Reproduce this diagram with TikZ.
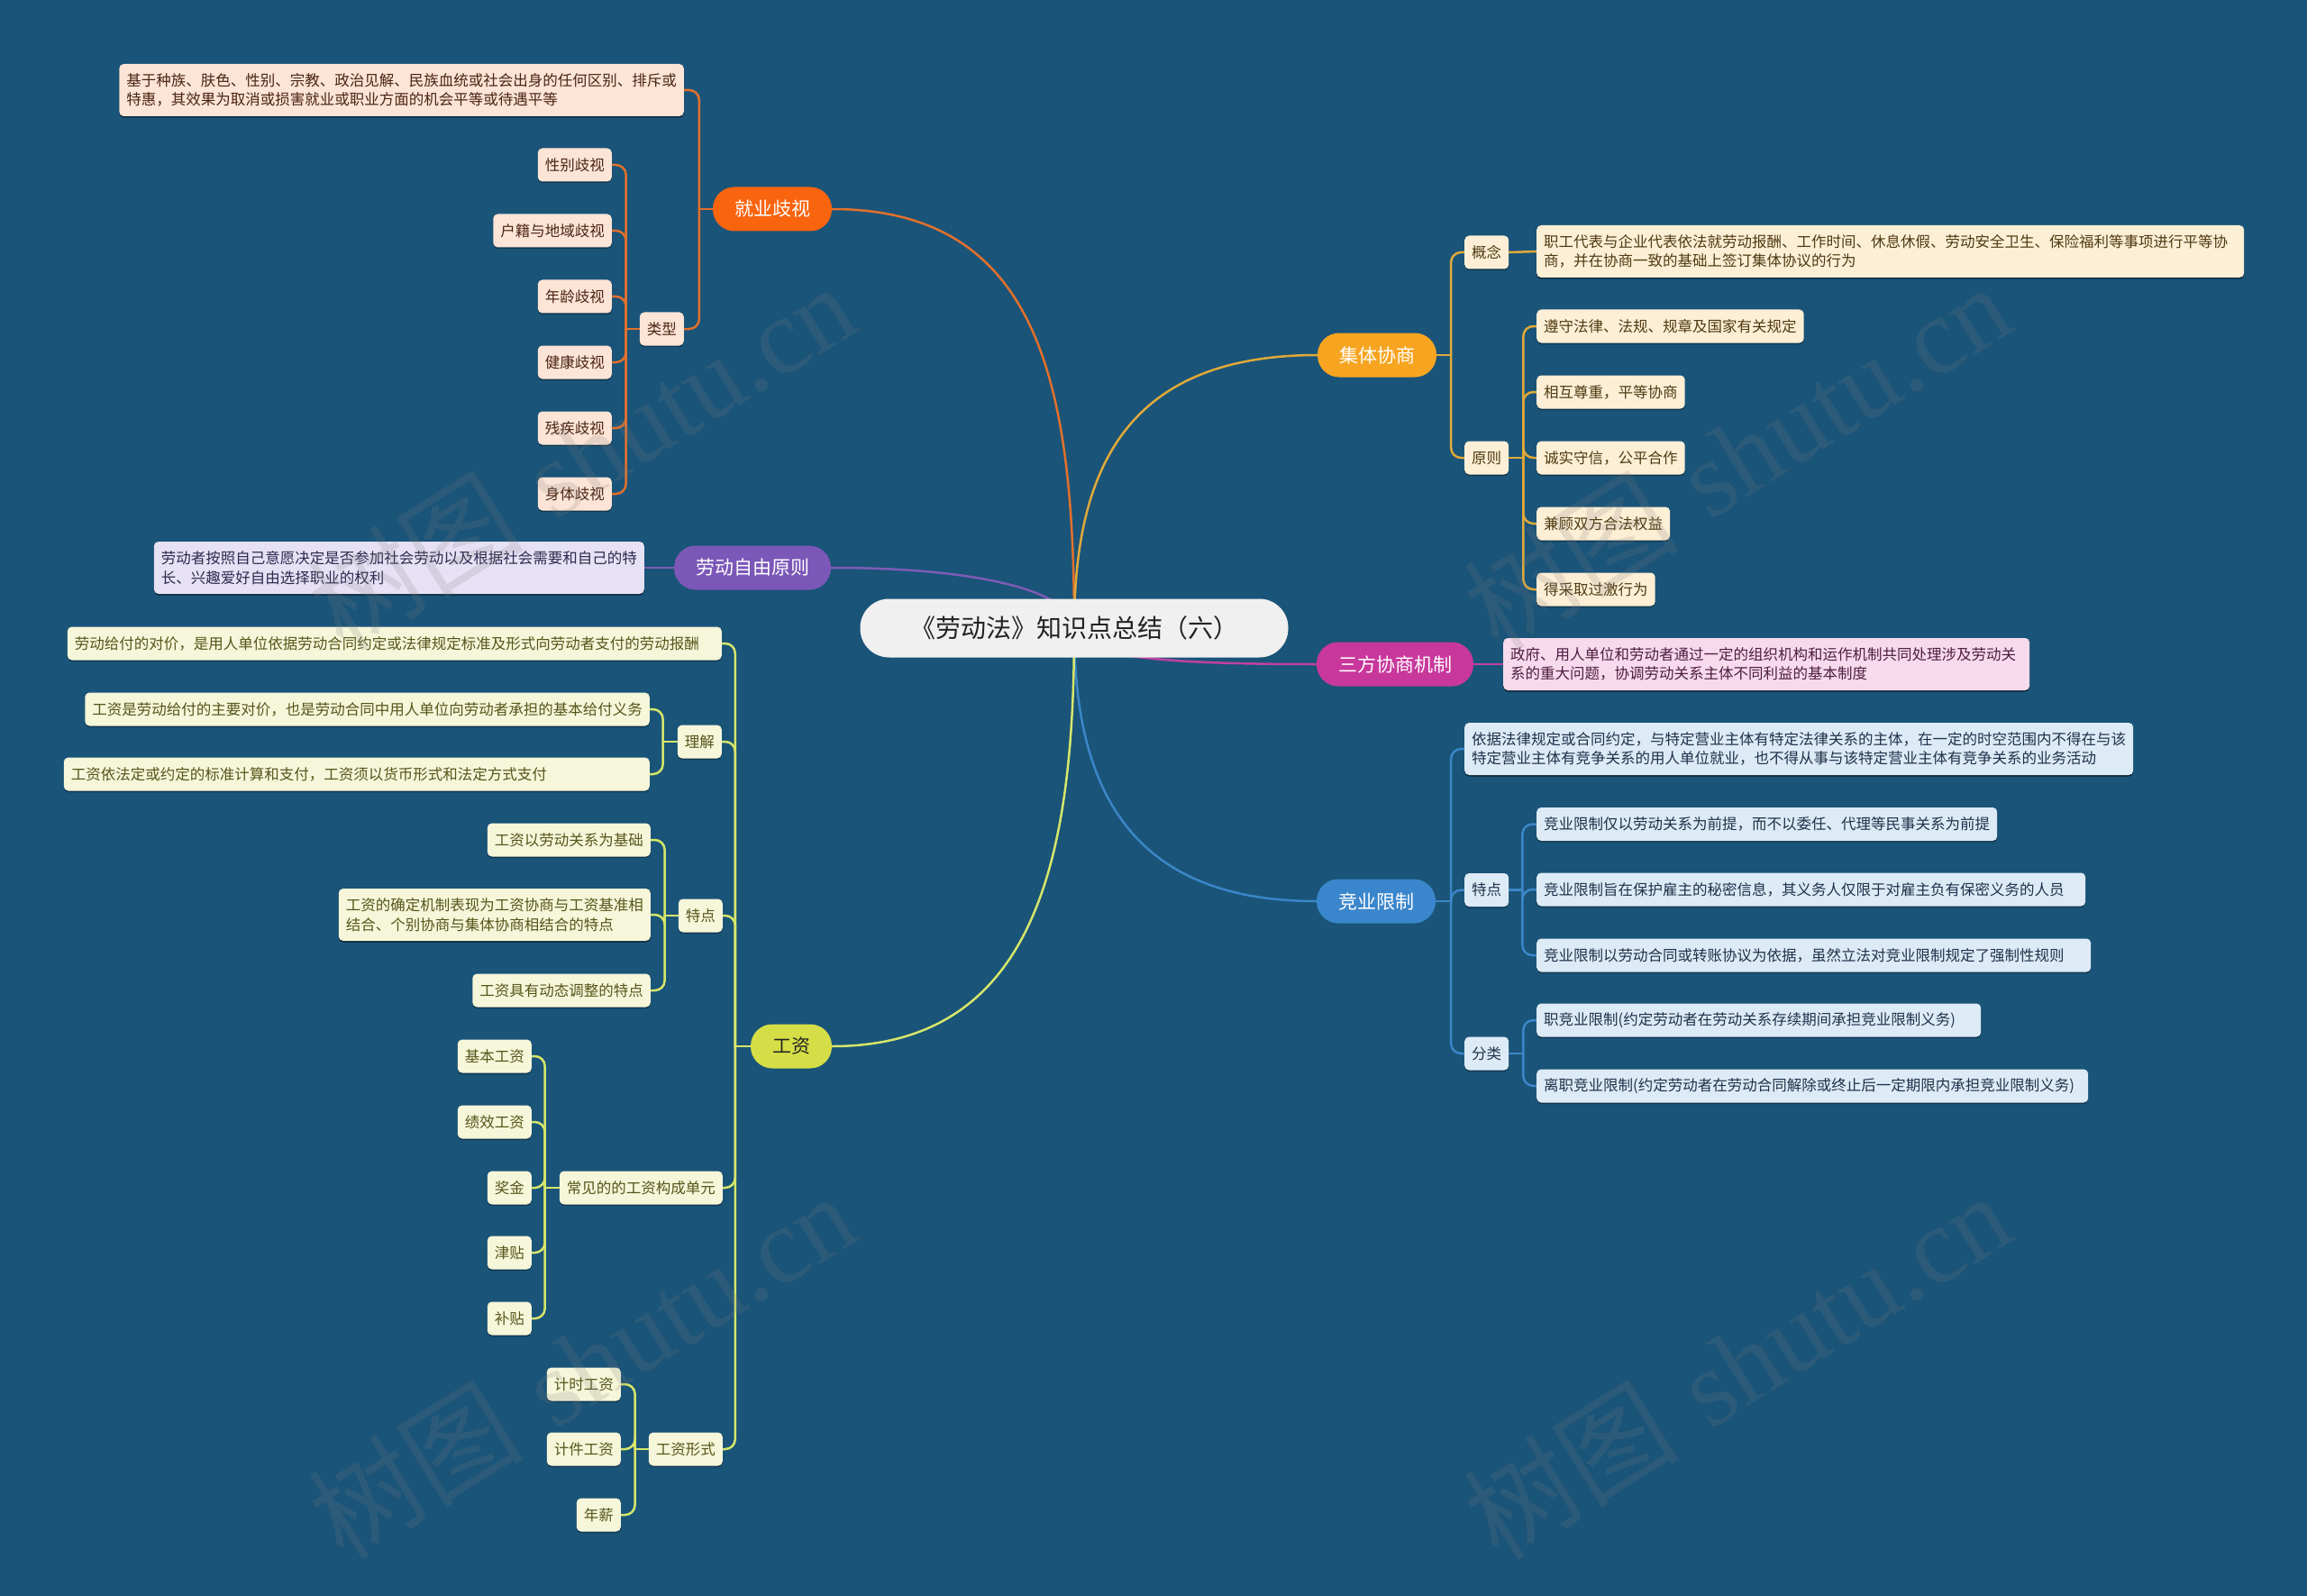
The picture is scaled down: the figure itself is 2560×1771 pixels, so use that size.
\documentclass[tikz,border=0pt]{standalone}
\usepackage{fontspec}
\newfontfamily\cjk{Noto Sans CJK SC}
\newfontfamily\wmserif{Liberation Serif}
\usetikzlibrary{shadows}
\pgfdeclarelayer{bg}
\pgfsetlayers{bg,main}
\definecolor{bgc}{HTML}{1A5478}
\definecolor{cJY}{HTML}{F9640F}
\definecolor{cJT}{HTML}{F7A521}
\definecolor{cLD}{HTML}{7B57B8}
\definecolor{cSF}{HTML}{C8389C}
\definecolor{cJX}{HTML}{3A86CC}
\definecolor{cGZ}{HTML}{D5DE46}
\definecolor{lJY}{HTML}{E2702C}
\definecolor{lJT}{HTML}{E0A93A}
\definecolor{lLD}{HTML}{7D5CB5}
\definecolor{lSF}{HTML}{C0409E}
\definecolor{lJX}{HTML}{3C86C8}
\definecolor{lGZ}{HTML}{D6E66A}
\definecolor{fJY}{HTML}{FCE4D6}
\definecolor{tJY}{HTML}{4A2512}
\definecolor{fJT}{HTML}{FDEFD6}
\definecolor{tJT}{HTML}{4F3A12}
\definecolor{fLD}{HTML}{E6E1F4}
\definecolor{tLD}{HTML}{2E2A4F}
\definecolor{fSF}{HTML}{F7DAEC}
\definecolor{tSF}{HTML}{4E1E40}
\definecolor{fJX}{HTML}{DDEBF7}
\definecolor{tJX}{HTML}{1F324A}
\definecolor{fGZ}{HTML}{F6F6DA}
\definecolor{tGZ}{HTML}{55561A}
\definecolor{cCT}{HTML}{F0F0F0}
\definecolor{tCT}{HTML}{222222}
\tikzset{
  lf/.style={font=\cjk\fontsize{16.5}{21.5}\selectfont, rounded corners=5pt, inner xsep=8pt, inner ysep=0pt, minimum height=37pt, align=left,
    drop shadow={shadow xshift=0pt, shadow yshift=-1.5pt, opacity=0.35, fill=black}},
  lftwo/.style={lf, minimum height=58pt},
  mainn/.style={font=\cjk\fontsize{21}{25}\selectfont, rounded corners=24pt, inner xsep=24pt, inner ysep=0pt, minimum height=49pt, text=white},
  central/.style={font=\cjk\fontsize{28}{32}\selectfont, rounded corners=32pt, minimum width=475pt, minimum height=65pt, fill=cCT, text=tCT},
  jyl/.style={lf, fill=fJY, text=tJY},
  jtl/.style={lf, fill=fJT, text=tJT},
  ldl/.style={lf, fill=fLD, text=tLD},
  sfl/.style={lf, fill=fSF, text=tSF},
  jxl/.style={lf, fill=fJX, text=tJX},
  gzl/.style={lf, fill=fGZ, text=tGZ},
  ln/.style={line width=2.5pt, line cap=round},
  el/.style={ln, rounded corners=11pt},
  wm/.style={rotate=32, text=gray, opacity=0.18, font=\fontsize{120}{120}\selectfont}
}
\begin{document}
\begin{tikzpicture}[x=1pt,y=-1pt]
\begin{pgfonlayer}{bg}
\fill[bgc] (0,0) rectangle (2560,1771);
\end{pgfonlayer}
\useasboundingbox (0,0) rectangle (2560,1771);

% central and main branches
\node[central] (c) at (1192,697) {《劳动法》知识点总结（六）};
\node[mainn, fill=cJY] (jy) at (857,232) {就业歧视};
\node[mainn, fill=cJT] (jt) at (1528,394) {集体协商};
\node[mainn, fill=cLD] (ld) at (835,630) {劳动自由原则};
\node[mainn, fill=cSF] (sf) at (1548,737) {三方协商机制};
\node[mainn, fill=cJX] (jx) at (1527,1000) {竞业限制};
\node[mainn, fill=cGZ, text=tCT] (gz) at (878,1161) {工资};

% 就业歧视
\node[jyl, lftwo, anchor=east] (jyd) at (759,100) {基于种族、肤色、性别、宗教、政治见解、民族血统或社会出身的任何区别、排斥或\\特惠，其效果为取消或损害就业或职业方面的机会平等或待遇平等};
\node[jyl, anchor=east] (lx) at (759,365) {类型};
\node[jyl, anchor=east] (lx1) at (679,183) {性别歧视};
\node[jyl, anchor=east] (lx2) at (679,256) {户籍与地域歧视};
\node[jyl, anchor=east] (lx3) at (679,329) {年龄歧视};
\node[jyl, anchor=east] (lx4) at (679,402) {健康歧视};
\node[jyl, anchor=east] (lx5) at (679,475) {残疾歧视};
\node[jyl, anchor=east] (lx6) at (679,548) {身体歧视};

% 劳动自由原则
\node[ldl, lftwo, anchor=east] (ldd) at (715,630) {劳动者按照自己意愿决定是否参加社会劳动以及根据社会需要和自己的特\\长、兴趣爱好自由选择职业的权利};

% 集体协商
\node[jtl, anchor=west] (gn) at (1625,280) {概念};
\node[jtl, lftwo, anchor=west, text width=769pt] (gnd) at (1705,279) {职工代表与企业代表依法就劳动报酬、工作时间、休息休假、劳动安全卫生、保险福利等事项进行平等协\\商，并在协商一致的基础上签订集体协议的行为};
\node[jtl, anchor=west] (yz) at (1625,508) {原则};
\node[jtl, anchor=west] (yz1) at (1705,362) {遵守法律、法规、规章及国家有关规定};
\node[jtl, anchor=west] (yz2) at (1705,435) {相互尊重，平等协商};
\node[jtl, anchor=west] (yz3) at (1705,508) {诚实守信，公平合作};
\node[jtl, anchor=west] (yz4) at (1705,581) {兼顾双方合法权益};
\node[jtl, anchor=west] (yz5) at (1705,654) {得采取过激行为};

% 三方协商机制
\node[sfl, lftwo, anchor=west, text width=568pt] (sfd) at (1668,737) {政府、用人单位和劳动者通过一定的组织机构和运作机制共同处理涉及劳动关\\系的重大问题，协调劳动关系主体不同利益的基本制度};

% 竞业限制
\node[jxl, lftwo, anchor=west] (jxd) at (1625,831) {依据法律规定或合同约定，与特定营业主体有特定法律关系的主体，在一定的时空范围内不得在与该\\特定营业主体有竞争关系的用人单位就业，也不得从事与该特定营业主体有竞争关系的业务活动};
\node[jxl, anchor=west] (td) at (1625,987.5) {特点};
\node[jxl, anchor=west] (td1) at (1705,914.5) {竞业限制仅以劳动关系为前提，而不以委任、代理等民事关系为前提};
\node[jxl, anchor=west, text width=593pt] (td2) at (1705,987) {竞业限制旨在保护雇主的秘密信息，其义务人仅限于对雇主负有保密义务的人员};
\node[jxl, anchor=west, text width=599pt] (td3) at (1705,1060) {竞业限制以劳动合同或转账协议为依据，虽然立法对竞业限制规定了强制性规则};
\node[jxl, anchor=west] (fl) at (1625,1169) {分类};
\node[jxl, anchor=west, text width=477pt] (fl1) at (1705,1132) {职竞业限制(约定劳动者在劳动关系存续期间承担竞业限制义务)};
\node[jxl, anchor=west, text width=596pt] (fl2) at (1705,1205) {离职竞业限制(约定劳动者在劳动合同解除或终止后一定期限内承担竞业限制义务)};

% 工资
\node[gzl, anchor=east, text width=710pt] (gzd) at (801,714) {劳动给付的对价，是用人单位依据劳动合同约定或法律规定标准及形式向劳动者支付的劳动报酬};
\node[gzl, anchor=east] (lj) at (801,823) {理解};
\node[gzl, anchor=east] (lj1) at (721,787) {工资是劳动给付的主要对价，也是劳动合同中用人单位向劳动者承担的基本给付义务};
\node[gzl, anchor=east, text width=634pt] (lj2) at (721,859) {工资依法定或约定的标准计算和支付，工资须以货币形式和法定方式支付};
\node[gzl, anchor=east] (gt) at (802,1016) {特点};
\node[gzl, anchor=east] (gt1) at (722,932) {工资以劳动关系为基础};
\node[gzl, lftwo, anchor=east] (gt2) at (722,1015) {工资的确定机制表现为工资协商与工资基准相\\结合、个别协商与集体协商相结合的特点};
\node[gzl, anchor=east] (gt3) at (722,1099) {工资具有动态调整的特点};
\node[gzl, anchor=east] (cj) at (802,1318) {常见的的工资构成单元};
\node[gzl, anchor=east] (cj1) at (590,1172) {基本工资};
\node[gzl, anchor=east] (cj2) at (590,1245) {绩效工资};
\node[gzl, anchor=east] (cj3) at (590,1318) {奖金};
\node[gzl, anchor=east] (cj4) at (590,1390) {津贴};
\node[gzl, anchor=east] (cj5) at (590,1463) {补贴};
\node[gzl, anchor=east] (xs) at (802,1608) {工资形式};
\node[gzl, anchor=east] (xs1) at (689,1536) {计时工资};
\node[gzl, anchor=east] (xs2) at (689,1608) {计件工资};
\node[gzl, anchor=east] (xs3) at (689,1681) {年薪};

\begin{pgfonlayer}{bg}
% main curves
\draw[ln, lJY] (c.center) .. controls (1192,420) and (1150,232) .. (jy.east);
\draw[ln, lJT] (c.center) .. controls (1192,520) and (1250,394) .. (jt.west);
\draw[ln, lLD] (c.center) .. controls (1192,660) and (1100,630) .. (ld.east);
\draw[ln, lSF] (c.center) .. controls (1192,730) and (1300,737) .. (sf.west);
\draw[ln, lJX] (c.center) .. controls (1192,870) and (1250,1000) .. (jx.west);
\draw[ln, lGZ] (c.center) .. controls (1192,950) and (1150,1161) .. (gz.east);

% 就业歧视
\draw[ln, lJY] (jy.west) -- ++(-15,0) coordinate (jys);
\foreach \t in {jyd,lx} \draw[el, lJY] (jys) |- (\t.east);
\draw[ln, lJY] (lx.west) -- ++(-15,0) coordinate (lxs);
\foreach \t in {lx1,lx2,lx3,lx4,lx5,lx6} \draw[el, lJY] (lxs) |- (\t.east);

% 劳动自由原则
\draw[ln, lLD] (ld.west) -- (ldd.east);

% 集体协商
\draw[ln, lJT] (jt.east) -- ++(16,0) coordinate (jts);
\foreach \t in {gn,yz} \draw[el, lJT] (jts) |- (\t.west);
\draw[ln, lJT] (gn.east) -- (gnd.west);
\draw[ln, lJT] (yz.east) -- ++(16,0) coordinate (yzs);
\foreach \t in {yz1,yz2,yz3,yz4,yz5} \draw[el, lJT] (yzs) |- (\t.west);

% 三方协商机制
\draw[ln, lSF] (sf.east) -- (sfd.west);

% 竞业限制
\draw[ln, lJX] (jx.east) -- ++(17,0) coordinate (jxs);
\foreach \t in {jxd,td,fl} \draw[el, lJX] (jxs) |- (\t.west);
\draw[ln, lJX] (td.east) -- ++(15,0) coordinate (tds);
\foreach \t in {td1,td2,td3} \draw[el, lJX] (tds) |- (\t.west);
\draw[ln, lJX] (fl.east) -- ++(16,0) coordinate (fls);
\foreach \t in {fl1,fl2} \draw[el, lJX] (fls) |- (\t.west);

% 工资
\draw[ln, lGZ] (gz.west) -- ++(-17,0) coordinate (gzs);
\foreach \t in {gzd,lj,gt,cj,xs} \draw[el, lGZ] (gzs) |- (\t.east);
\draw[ln, lGZ] (lj.west) -- ++(-16,0) coordinate (ljs);
\foreach \t in {lj1,lj2} \draw[el, lGZ] (ljs) |- (\t.east);
\draw[ln, lGZ] (gt.west) -- ++(-15,0) coordinate (gts);
\foreach \t in {gt1,gt2,gt3} \draw[el, lGZ] (gts) |- (\t.east);
\draw[ln, lGZ] (cj.west) -- ++(-16,0) coordinate (cjs);
\foreach \t in {cj1,cj2,cj3,cj4,cj5} \draw[el, lGZ] (cjs) |- (\t.east);
\draw[ln, lGZ] (xs.west) -- ++(-15,0) coordinate (xss);
\foreach \t in {xs1,xs2,xs3} \draw[el, lGZ] (xss) |- (\t.east);
\end{pgfonlayer}

% watermarks
\node[wm] (w1) at (645,506) {{\cjk 树图}\ {\wmserif shutu.cn}};
\node[wm] (w2) at (1927,506) {{\cjk 树图}\ {\wmserif shutu.cn}};
\node[wm] (w3) at (645,1515) {{\cjk 树图}\ {\wmserif shutu.cn}};
\node[wm] (w4) at (1927,1515) {{\cjk 树图}\ {\wmserif shutu.cn}};
\end{tikzpicture}
\end{document}
